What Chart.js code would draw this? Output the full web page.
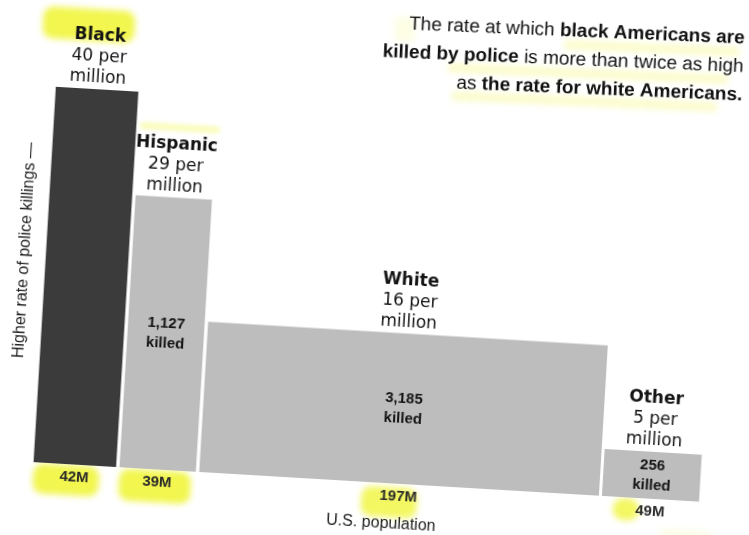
<!DOCTYPE html>
<html>
<head>
<meta charset="utf-8">
<script src="https://cdn.jsdelivr.net/npm/chart.js@4.4.1/dist/chart.umd.min.js"></script>
<style>
  html, body { margin: 0; padding: 0; background: #fff; overflow: hidden; }
  #page { width: 749px; height: 535px; background: #fff;
          transform: rotate(3.4deg); transform-origin: 374.5px 267.5px; }
  canvas { display: block; }
</style>
</head>
<body>
<div id="page"><canvas id="chart" width="749" height="535"></canvas></div>
<script>
// Police killings per million people, by race, with bar width = share of U.S. population
const groups = ['Black', 'Hispanic', 'White', 'Other'];
const populationM = [42, 39, 197, 49];          // U.S. population, millions
const ratePerMillion = [40, 29, 16, 5];         // killed by police per million
const killed = [null, 1127, 3185, 256];         // count printed inside the bar
const popLabels = ['42M', '39M', '197M', '49M'];
const barColors = ['#3b3b3b', '#bdbdbd', '#bdbdbd', '#bdbdbd'];

const noteLines = [
  [['The rate at which ', false], ['black Americans are', true]],
  [['killed by police', true], [' is more than twice as high', false]],
  [['as ', false], ['the rate for white Americans.', true]]
];
const axisTitle = 'Higher rate of police killings \u2014';
const popTitle = 'U.S. population';

// Cumulative left edge of every bar along the population axis
const starts = [];
populationM.reduce((acc, p, i) => { starts[i] = acc; return acc + p; }, 0);
const totalPop = populationM.reduce((a, b) => a + b, 0);
const HALF_GAP = 0.7; // white gutter between bars, in millions

const datasets = groups.map((g, i) => ({
  label: g,
  data: [
    { x: starts[i] + HALF_GAP, y: ratePerMillion[i] },
    { x: starts[i] + populationM[i] - HALF_GAP, y: ratePerMillion[i] }
  ],
  backgroundColor: barColors[i],
  borderColor: 'rgba(0,0,0,0)',
  borderWidth: 0,
  pointRadius: 0,
  tension: 0,
  fill: 'origin'
}));

const LABEL_FONT = '"DejaVu Sans", sans-serif';
const SMALL_FONT = '"Liberation Sans", Arial, sans-serif';
const YELLOW = 'rgba(238, 244, 30, 0.78)';

function barGeom(chart, i) {
  const x = chart.scales.x, y = chart.scales.y;
  const left = x.getPixelForValue(starts[i]);
  const right = x.getPixelForValue(starts[i] + populationM[i]);
  return {
    cx: (left + right) / 2,
    top: y.getPixelForValue(ratePerMillion[i]),
    base: y.getPixelForValue(0)
  };
}

// soft highlighter stroke: a blurred rounded box
function mark(ctx, cx, cy, w, h, color, blur) {
  ctx.save();
  ctx.filter = 'blur(' + blur + 'px)';
  ctx.fillStyle = color;
  ctx.beginPath();
  ctx.roundRect(cx - w / 2, cy - h / 2, w, h, Math.min(10, h / 2));
  ctx.fill();
  ctx.restore();
}

function noteFrame(ctx) {
  ctx.translate(731, 50);
  ctx.rotate(-1.0 * Math.PI / 180);
}

// Highlighter marks sit underneath everything else
const highlighter = {
  id: 'highlighter',
  beforeDatasetsDraw(chart) {
    const ctx = chart.ctx;
    const b0 = barGeom(chart, 0), b1 = barGeom(chart, 1), b2 = barGeom(chart, 2), b3 = barGeom(chart, 3);
    // group name "Black"
    mark(ctx, b0.cx - 12, b0.top - 64, 92, 32, YELLOW, 3);
    // faint stroke above "Hispanic"
    mark(ctx, b1.cx + 2, b1.top - 70, 80, 7, 'rgba(238,244,30,0.3)', 2);
    // population figures
    const by = b0.base + 14;
    mark(ctx, b0.cx - 8, by + 2, 66, 30, YELLOW, 3);
    mark(ctx, b1.cx - 2, by + 3, 72, 32, YELLOW, 3);
    mark(ctx, b2.cx - 9, by + 5, 56, 30, 'rgba(238,244,30,0.7)', 3);
    mark(ctx, b3.cx - 24, by - 2, 26, 22, 'rgba(238,244,30,0.7)', 3);
    mark(ctx, b3.cx + 38, by + 26, 56, 18, 'rgba(238,244,30,0.15)', 4);
    // faint streaks through the note
    ctx.save();
    noteFrame(ctx);
    ctx.filter = 'blur(3px)';
    ctx.fillStyle = 'rgba(238,244,30,0.24)';
    ctx.fillRect(-180, -24, 175, 9);
    ctx.fillRect(-295, 4, 280, 9);
    ctx.fillRect(-290, 32, 265, 9);
    ctx.fillStyle = 'rgba(238,244,30,0.12)';
    ctx.fillRect(-350, -40, 20, 24);
    ctx.restore();
  }
};

function drawRich(ctx, segs, right, y, size) {
  const fontOf = bold => (bold ? 'bold ' : '') + size + 'px ' + SMALL_FONT;
  let total = 0;
  segs.forEach(([t, b]) => { ctx.font = fontOf(b); total += ctx.measureText(t).width; });
  let x = right - total;
  segs.forEach(([t, b]) => {
    ctx.font = fontOf(b);
    ctx.fillText(t, x, y);
    x += ctx.measureText(t).width;
  });
}

const annotations = {
  id: 'annotations',
  afterDatasetsDraw(chart) {
    const ctx = chart.ctx;
    ctx.save();
    ctx.fillStyle = '#141414';
    ctx.textAlign = 'center';
    ctx.textBaseline = 'middle';
    groups.forEach((g, i) => {
      const b = barGeom(chart, i);
      const last = b.top - 11;
      ctx.font = 'bold 17px ' + LABEL_FONT;
      ctx.fillText(g, b.cx, last - 42);
      ctx.font = '17px ' + LABEL_FONT;
      ctx.fillText(ratePerMillion[i] + ' per', b.cx, last - 21);
      ctx.fillText('million', b.cx, last);

      if (killed[i] !== null) {
        const mid = (b.top + b.base) / 2;
        ctx.font = 'bold 15px ' + SMALL_FONT;
        ctx.fillText(killed[i].toLocaleString('en-US'), b.cx, mid - 10);
        ctx.fillText('killed', b.cx, mid + 10);
      }

      ctx.font = 'bold 15px ' + SMALL_FONT;
      ctx.fillStyle = '#2a2a2a';
      ctx.fillText(popLabels[i], b.cx, b.base + 13);
      ctx.fillStyle = '#141414';
    });

    // axis caption under the population figures
    ctx.font = '16px ' + SMALL_FONT;
    ctx.fillStyle = '#222';
    ctx.fillText(popTitle, 396, barGeom(chart, 2).base + 41);

    // vertical caption at the left
    ctx.save();
    ctx.translate(25, 379);
    ctx.rotate(-Math.PI / 2);
    ctx.textAlign = 'left';
    ctx.font = '16px ' + SMALL_FONT;
    ctx.fillText(axisTitle, 0, 0);
    ctx.restore();

    // note in the upper right
    ctx.save();
    noteFrame(ctx);
    ctx.fillStyle = '#111';
    ctx.textAlign = 'left';
    ctx.textBaseline = 'alphabetic';
    noteLines.forEach((segs, k) => drawRich(ctx, segs, 0, -28 + k * 28.5, 19));
    ctx.restore();

    ctx.restore();
  }
};

new Chart(document.getElementById('chart'), {
  type: 'line',
  data: { datasets },
  options: {
    responsive: false,
    animation: false,
    devicePixelRatio: 1,
    events: [],
    layout: { padding: { left: 44, right: 35, top: 106, bottom: 53 } },
    scales: {
      x: { type: 'linear', min: 0, max: totalPop, display: false },
      y: { type: 'linear', min: 0, max: 40, display: false }
    },
    plugins: {
      legend: { display: false },
      tooltip: { enabled: false }
    }
  },
  plugins: [highlighter, annotations]
});
</script>
</body>
</html>
